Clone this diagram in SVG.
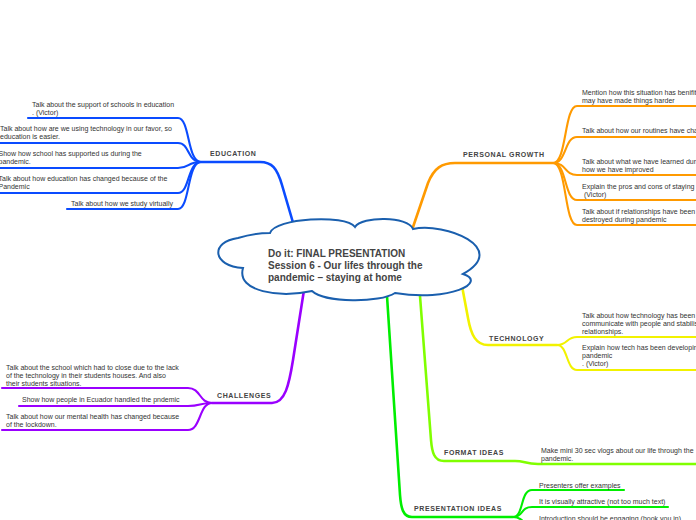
<svg xmlns="http://www.w3.org/2000/svg" width="696" height="520" viewBox="0 0 696 520">
<style>
.c{fill:none;stroke-linecap:round;stroke-linejoin:round}
.b{stroke-width:2.6}
.l{stroke-width:2.1}
.edu{stroke:#0a4bff}.pg{stroke:#ff9a00}.tec{stroke:#f2f200}.ch{stroke:#9a00ff}.fm{stroke:#80ff00}.pr{stroke:#00ee00}
.t{font-family:"Liberation Sans",Arial,sans-serif;font-size:7px;fill:#333}
.lab{font-family:"Liberation Sans",Arial,sans-serif;font-size:7px;font-weight:bold;fill:#444;letter-spacing:0.6px}
.ct{font-family:"Liberation Sans",Arial,sans-serif;font-size:10px;font-weight:bold;fill:#444}
</style>
<rect width="696" height="520" fill="#fff"/>
<g id="connectors">
<path class="c b edu" d="M294 226 L282 185 C277 168 272 162 260 162 L201 162"/>
<path class="c l edu" d="M201 162 C187 162 190 118 178 118 L28 118"/>
<path class="c l edu" d="M201 162 C187 162 190 143 178 143 L-2 143"/>
<path class="c l edu" d="M201 162 C187 162 190 168 178 168 L-2 168"/>
<path class="c l edu" d="M201 162 C187 162 190 193 178 193 L-2 193"/>
<path class="c l edu" d="M201 162 C187 162 190 209 178 209 L67 209"/>
<path class="c b pg" d="M412 230 L428 183 C434 168 442 163 455 163 L553 163"/>
<path class="c l pg" d="M553 163 C567 163 564 106 577 106 L700 106"/>
<path class="c l pg" d="M553 163 C567 163 564 137 577 137 L700 137"/>
<path class="c l pg" d="M553 163 C567 163 564 175 577 175 L700 175"/>
<path class="c l pg" d="M553 163 C567 163 564 200 577 200 L700 200"/>
<path class="c l pg" d="M553 163 C567 163 564 225 577 225 L700 225"/>
<path class="c b tec" d="M462 286 L468 318 C471 335 476 345 488 345 L557 345"/>
<path class="c l tec" d="M557 345 C568 345 566 337 577 337 L700 337"/>
<path class="c l tec" d="M557 345 C568 345 566 370 577 370 L700 370"/>
<path class="c b ch" d="M304 290 L293 360 C289 385 285 403 272 403 L212 403"/>
<path class="c l ch" d="M212 403 C199 403 201 388 188 388 L2 388"/>
<path class="c l ch" d="M212 403 C199 403 201 406 188 406 L19 406"/>
<path class="c l ch" d="M212 403 C199 403 201 430 188 430 L2 430"/>
<path class="c b fm" d="M420 296 L431 440 C432 452 434 461 444 461 L515 461 C525 461 525 464 538 464 L700 464"/>
<path class="c b pr" d="M387 296 L400 495 C401 508 403 517 412 517 L513 517"/>
<path class="c l pr" d="M513 517 C524 517 520 490 532 490 L624 490"/>
<path class="c l pr" d="M513 517 C524 517 520 507 532 507 L668 507"/>
<path class="c l pr" d="M513 517 C524 517 520 524 532 524 L690 524"/>
</g>
<g id="center">
<path d="M243 268 C212 266 210 242 238 238 C248 235 262 233 270 233 C275 218 345 214 355 227 C362 216 408 216 413 229 C445 222 510 248 463 274 C488 282 450 302 395 293 C380 303 325 303 312 291 C280 298 236 292 243 268 Z" fill="#fff" stroke="#1a5fae" stroke-width="2"/>
<text class="ct" x="268" y="257">Do it: FINAL PRESENTATION</text>
<text class="ct" x="268" y="269">Session 6 - Our lifes through the</text>
<text class="ct" x="268" y="280.5">pandemic – staying at home</text>
</g>
<g id="education">
<text class="lab" x="210" y="156">EDUCATION</text>
<text class="t" x="32" y="106.5">Talk about the support of schools in education</text>
<text class="t" x="32" y="114.5">. (Victor)</text>
<text class="t" x="0" y="131">Talk about how are we using technology in our favor, so</text>
<text class="t" x="0" y="139">education is easier.</text>
<text class="t" x="-1.5" y="156">Show how school has supported us during the</text>
<text class="t" x="-1.5" y="164">pandemic.</text>
<text class="t" x="-1.5" y="181">Talk about how education has changed because of the</text>
<text class="t" x="-1.5" y="189">Pandemic</text>
<text class="t" x="71" y="206">Talk about how we study virtually</text>
</g>
<g id="personal-growth">
<text class="lab" x="463" y="157">PERSONAL GROWTH</text>
<text class="t" x="582" y="95">Mention how this situation has benifited</text>
<text class="t" x="582" y="103">may have made things harder</text>
<text class="t" x="582" y="133">Talk about how our routines have changed</text>
<text class="t" x="582" y="164">Talk about what we have learned during</text>
<text class="t" x="582" y="172">how we have improved</text>
<text class="t" x="582" y="189">Explain the pros and cons of staying</text>
<text class="t" x="584" y="197">(Victor)</text>
<text class="t" x="582" y="213.5">Talk about if relationships have been</text>
<text class="t" x="582" y="221.5">destroyed during pandemic</text>
</g>
<g id="technology">
<text class="lab" x="489" y="341">TECHNOLOGY</text>
<text class="t" x="582" y="317.5">Talk about how technology has been</text>
<text class="t" x="582" y="325.5">communicate with people and stabilish</text>
<text class="t" x="582" y="333.5">relationships.</text>
<text class="t" x="582" y="349.5">Explain how tech has been developing</text>
<text class="t" x="582" y="357.5">pandemic</text>
<text class="t" x="582" y="365.5">. (Victor)</text>
</g>
<g id="challenges">
<text class="lab" x="217" y="398">CHALLENGES</text>
<text class="t" x="6" y="369.5">Talk about the school which had to close due to the lack</text>
<text class="t" x="6" y="377.5">of the technology in their students houses. And also</text>
<text class="t" x="6" y="385.5">their students situations.</text>
<text class="t" x="22" y="401.5">Show how people in Ecuador handled the pndemic</text>
<text class="t" x="6" y="419">Talk about how our mental health has changed because</text>
<text class="t" x="6" y="427">of the lockdown.</text>
</g>
<g id="format-ideas">
<text class="lab" x="444" y="455">FORMAT IDEAS</text>
<text class="t" x="541" y="452.5">Make mini 30 sec vlogs about our life through the</text>
<text class="t" x="541" y="460.5">pandemic.</text>
</g>
<g id="presentation-ideas">
<text class="lab" x="414" y="511">PRESENTATION IDEAS</text>
<text class="t" x="539" y="487.5">Presenters offer examples</text>
<text class="t" x="539" y="504">It is visually attractive (not too much text)</text>
<text class="t" x="539" y="520.5">Introduction should be engaging (hook you in)</text>
</g>
</svg>
